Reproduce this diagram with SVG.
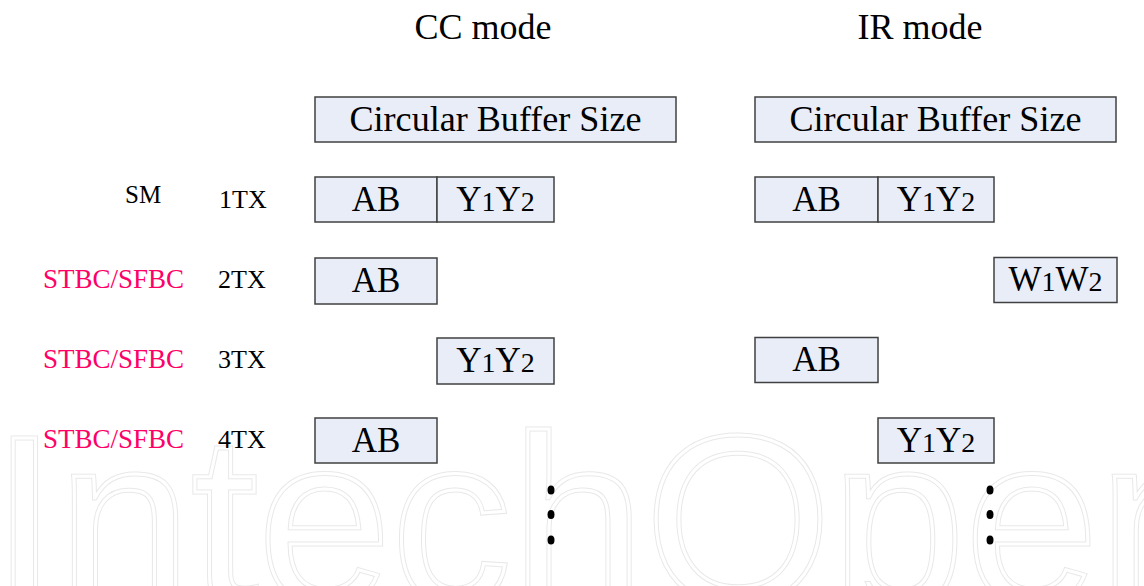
<svg xmlns="http://www.w3.org/2000/svg" width="1144" height="586" viewBox="0 0 1144 586">
<style>
.box{fill:#e8edf7;stroke:#404040;stroke-width:1.5}
.bt{font-family:"Liberation Serif","Times New Roman",serif;font-size:35px;fill:#000;text-anchor:middle}
.sub{font-size:28px}
.title{font-family:"Liberation Serif","Times New Roman",serif;font-size:36px;fill:#000;text-anchor:middle}
.lab{font-family:"Liberation Serif","Times New Roman",serif;font-size:26px;fill:#000}
.pink{font-family:"Liberation Serif","Times New Roman",serif;font-size:27px;fill:#ff0066}
.dot{fill:#000}
.wm1{font-family:"Liberation Sans",Arial,sans-serif;font-size:240px;fill:none;stroke:#e8e8e8;stroke-width:5}
.wm2{font-family:"Liberation Sans",Arial,sans-serif;font-size:240px;fill:none;stroke:#ffffff;stroke-width:3}
</style>
<rect width="1144" height="586" fill="#fff"/>
<g id="watermark">
<text class="wm1" x="-9" y="603">IntechOpen</text>
<text class="wm2" x="-9" y="603">IntechOpen</text>
</g>
<g id="titles">
<text class="title" x="483" y="39">CC mode</text>
<text class="title" x="920" y="39">IR mode</text>
</g>
<g id="labels">
<text class="lab" x="125" y="203" style="font-size:25px">SM</text>
<text class="lab" x="219" y="208">1TX</text>
<text class="pink" x="43" y="288">STBC/SFBC</text>
<text class="lab" x="218" y="288">2TX</text>
<text class="pink" x="43" y="368">STBC/SFBC</text>
<text class="lab" x="218" y="368">3TX</text>
<text class="pink" x="43" y="448">STBC/SFBC</text>
<text class="lab" x="218" y="448">4TX</text>
</g>
<g id="cc-buffer">
<rect class="box" x="315" y="97" width="361" height="45"/>
<text class="bt" x="495.5" y="131" textLength="292" lengthAdjust="spacingAndGlyphs">Circular Buffer Size</text>
</g>
<g id="ir-buffer">
<rect class="box" x="755" y="97" width="361" height="45"/>
<text class="bt" x="935.5" y="131" textLength="292" lengthAdjust="spacingAndGlyphs">Circular Buffer Size</text>
</g>
<g id="cc-1tx-ab">
<rect class="box" x="315" y="177" width="122" height="45"/>
<text class="bt" x="376" y="211">AB</text>
</g>
<g id="cc-1tx-y">
<rect class="box" x="437" y="177" width="117" height="45"/>
<text class="bt" x="495.5" y="211">Y<tspan class="sub">1</tspan>Y<tspan class="sub">2</tspan></text>
</g>
<g id="ir-1tx-ab">
<rect class="box" x="755" y="177" width="123" height="45"/>
<text class="bt" x="816.5" y="211">AB</text>
</g>
<g id="ir-1tx-y">
<rect class="box" x="878" y="177" width="116" height="45"/>
<text class="bt" x="936" y="211">Y<tspan class="sub">1</tspan>Y<tspan class="sub">2</tspan></text>
</g>
<g id="cc-2tx-ab">
<rect class="box" x="315" y="258" width="122" height="46"/>
<text class="bt" x="376" y="292">AB</text>
</g>
<g id="ir-2tx-w">
<rect class="box" x="994" y="257.5" width="123" height="45"/>
<text class="bt" x="1055.5" y="291">W<tspan class="sub">1</tspan>W<tspan class="sub">2</tspan></text>
</g>
<g id="cc-3tx-y">
<rect class="box" x="437" y="338" width="117" height="46"/>
<text class="bt" x="495.5" y="372">Y<tspan class="sub">1</tspan>Y<tspan class="sub">2</tspan></text>
</g>
<g id="ir-3tx-ab">
<rect class="box" x="755" y="337.5" width="123" height="45"/>
<text class="bt" x="816.5" y="371">AB</text>
</g>
<g id="cc-4tx-ab">
<rect class="box" x="315" y="418" width="122" height="45"/>
<text class="bt" x="376" y="452">AB</text>
</g>
<g id="ir-4tx-y">
<rect class="box" x="878" y="418" width="116" height="45"/>
<text class="bt" x="936" y="452">Y<tspan class="sub">1</tspan>Y<tspan class="sub">2</tspan></text>
</g>
<g id="connectors"></g>
<g id="cc-dots">
<ellipse class="dot" cx="551" cy="490" rx="3.5" ry="4.5"/>
<ellipse class="dot" cx="551" cy="514.5" rx="3.5" ry="4.5"/>
<ellipse class="dot" cx="551" cy="540" rx="3.5" ry="4.5"/>
</g>
<g id="ir-dots">
<ellipse class="dot" cx="990" cy="490" rx="3.5" ry="4.5"/>
<ellipse class="dot" cx="990" cy="514.5" rx="3.5" ry="4.5"/>
<ellipse class="dot" cx="990" cy="540" rx="3.5" ry="4.5"/>
</g>
</svg>
